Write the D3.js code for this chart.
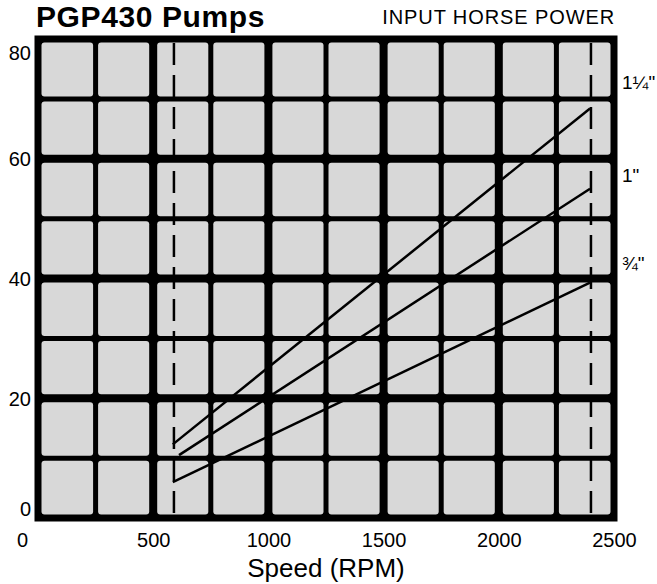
<!DOCTYPE html>
<html>
<head>
<meta charset="utf-8">
<script src="https://cdn.jsdelivr.net/npm/d3@7"></script>
<style>
  body { margin: 0; background: #fff; }
  text { font-family: "Liberation Sans", Arial, sans-serif; fill: #000; }
</style>
</head>
<body>
<script>
// values
var speedTicks = [0, 500, 1000, 1500, 2000, 2500];
var hpTicks = [0, 20, 40, 60, 80];
var gridSpeed = [0, 250, 500, 750, 1000, 1250, 1500, 1750, 2000, 2250, 2500];
var gridHp = [0, 10, 20, 30, 40, 50, 60, 70, 80];
var limitSpeed = [590, 2400];           // dashed lines
var pipeNames = ['1\u00BC"', '1"', '\u00BE"'];
var pipeSpeed = [[585, 2396], [612, 2396], [585, 2396]];
var pipeHp = [[12.3, 68.4], [10.5, 55], [6, 39.3]];
var labelHp = [72.8, 57.3, 42.5];       // where the pipe labels sit

var W = 657, H = 584;
var svg = d3.select("body").append("svg").attr("width", W).attr("height", H);

var x = d3.scaleLinear().domain([0, 2500]).range([38, 614]);
var y = d3.scaleLinear().domain([0, 80]).range([518, 39]);

// line width of each grid line: border / thick / thin
function wX(v) { return (v == 0 || v == 2500) ? 7 : (v % 500 == 0 ? 8 : 5); }
function wY(v) { return (v == 0 || v == 80) ? 7 : (v % 20 == 0 ? 8 : 5); }

//black plate, then grey cells with rounded corners
svg.append("rect")
  .attr("x", x(0) - 3.5).attr("y", y(80) - 3.5)
  .attr("width", x(2500) - x(0) + 7).attr("height", y(0) - y(80) + 7)
  .attr("fill", "#000");

var cells = [];
for (var i = 0; i < gridSpeed.length - 1; i++) {
  for (var j = 0; j < gridHp.length - 1; j++) {
    cells.push({a: gridSpeed[i], b: gridSpeed[i + 1], lo: gridHp[j], hi: gridHp[j + 1]});
  }
}
svg.append("g").selectAll("rect").data(cells).enter().append("rect")
  .attr("x", function(d) { return x(d.a) + wX(d.a) / 2; })
  .attr("y", function(d) { return y(d.hi) + wY(d.hi) / 2; })
  .attr("width", function(d) { return x(d.b) - wX(d.b) / 2 - x(d.a) - wX(d.a) / 2; })
  .attr("height", function(d) { return y(d.lo) - wY(d.lo) / 2 - y(d.hi) - wY(d.hi) / 2; })
  .attr("rx", 3).attr("ry", 3)
  .attr("fill", "#d8d8d8");

// dashed speed limits
svg.append("g").selectAll("line").data(limitSpeed).enter().append("line")
  .attr("x1", function(d) { return x(d); }).attr("x2", function(d) { return x(d); })
  .attr("y1", y(80) + 4).attr("y2", y(0) - 4)
  .attr("stroke", "#000").attr("stroke-width", 2.5)
  .attr("stroke-dasharray", "22,10");

// pipe lines
var line = d3.line().x(function(d) { return x(d[0]); }).y(function(d) { return y(d[1]); });
svg.append("g").selectAll("path").data(pipeNames).enter().append("path")
  .attr("d", function(d, i) { return line(d3.zip(pipeSpeed[i], pipeHp[i])); })
  .attr("fill", "none").attr("stroke", "#000").attr("stroke-width", 2.5);

svg.append("g").selectAll("text").data(pipeNames).enter().append("text")
  .attr("x", 622).attr("y", function(d, i) { return y(labelHp[i]); })
  .attr("dy", "0.35em")
  .style("font-size", "19px")
  .text(function(d) { return d; });

// axes
var xAxis = d3.axisBottom(x).tickValues(speedTicks).tickFormat(d3.format("d")).tickSize(0).tickPadding(0);
var gx = svg.append("g").attr("transform", "translate(0," + 547 + ")").call(xAxis);
gx.select(".domain").remove();
gx.selectAll("text").attr("dy", 0).attr("y", 0).style("font-size", "20px")
  .attr("dx", function(d) { return d == 0 ? -16 : 0; });

var yAxis = d3.axisLeft(y).tickValues(hpTicks).tickFormat(d3.format("d")).tickSize(0).tickPadding(0);
var gy = svg.append("g").attr("transform", "translate(31,0)").call(yAxis);
gy.select(".domain").remove();
gy.selectAll("text").style("font-size", "20px").attr("x", 0)
  .attr("dy", function(d) { return d == 80 ? "1.0em" : (d == 0 ? "-0.15em" : "0.35em"); });

// titles
svg.append("text").attr("x", 36).attr("y", 27)
  .style("font-size", "30px").style("font-weight", "bold")
  .style("letter-spacing", "0.6px")
  .text("PGP430 Pumps");
svg.append("text").attr("x", 615).attr("y", 24).attr("text-anchor", "end")
  .style("font-size", "20px").style("letter-spacing", "0.9px")
  .text("INPUT HORSE POWER");
svg.append("text").attr("x", 326).attr("y", 577).attr("text-anchor", "middle")
  .style("font-size", "26px")
  .text("Speed (RPM)");
</script>
</body>
</html>
